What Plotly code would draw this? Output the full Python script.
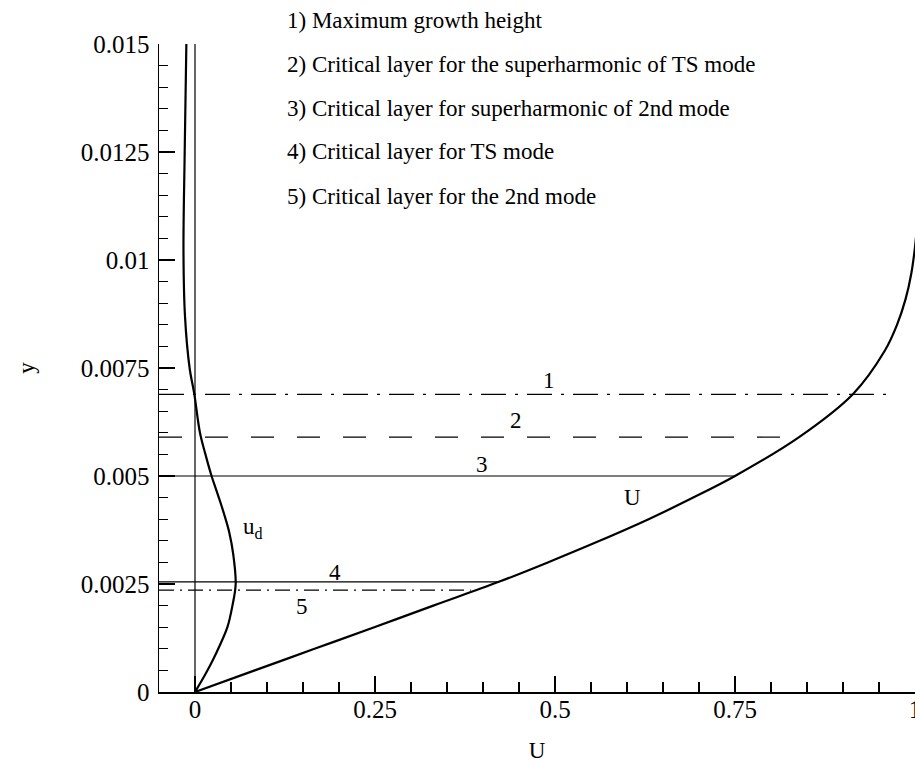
import plotly.graph_objects as go

# ---- data ----
# mean flow profile U(y)
U_y = [0, 0.0005, 0.001, 0.0015, 0.002, 0.00255, 0.003, 0.0035, 0.004, 0.0045,
       0.005, 0.0059, 0.0069, 0.0079, 0.0085, 0.0091, 0.0097, 0.0103, 0.011, 0.012]
U_x = [0, 0.083, 0.166, 0.249, 0.331, 0.422, 0.49, 0.562, 0.63, 0.692,
       0.75, 0.839, 0.914, 0.958, 0.975, 0.987, 0.995, 1.0, 1.004, 1.01]

# distortion profile u_d(y)
ud_y = [0, 0.0004, 0.00073, 0.0011, 0.0015, 0.002, 0.0025, 0.0032, 0.0037, 0.0043,
        0.0047, 0.005, 0.0055, 0.006, 0.0069, 0.0075, 0.0087, 0.0102, 0.0125, 0.015]
ud_x = [0, 0.014, 0.0245, 0.035, 0.045, 0.052, 0.0565, 0.053, 0.0475, 0.037,
        0.029, 0.023, 0.0145, 0.0069, -0.001, -0.0075, -0.0139, -0.016, -0.0143, -0.012]

# critical layers
layer_ids = ["1", "2", "3", "4", "5"]
layer_y = [0.00689, 0.0059, 0.005, 0.00255, 0.00236]
layer_xend = [0.965, 0.839, 0.75, 0.422, 0.383]
layer_label_x = [0.492, 0.446, 0.399, 0.194, 0.149]
layer_label_y = [0.0072, 0.00629, 0.00527, 0.00277, 0.00198]
layer_desc = [
    "1) Maximum growth height",
    "2) Critical layer for the superharmonic of TS mode",
    "3) Critical layer for superharmonic of 2nd mode",
    "4) Critical layer for TS mode",
    "5) Critical layer for the 2nd mode",
]

x_tickvals = [0, 0.25, 0.5, 0.75, 1]
x_ticktext = ["0", "0.25", "0.5", "0.75", "1"]
y_tickvals = [0, 0.0025, 0.005, 0.0075, 0.01, 0.0125, 0.015]
y_ticktext = ["0", "0.0025", "0.005", "0.0075", "0.01", "0.0125", "0.015"]
x_range = [-0.05, 1.0]
y_range = [0, 0.015]

# ---- styles ----
FONT = "Liberation Serif"
TICKFONT = dict(family=FONT, size=25, color="black")
TXT = dict(family=FONT, size=23, color="black")
dash_styles = ["25px,9px,3px,9px", "23px,23px", "solid", "solid", "15px,6px,2px,6px"]

fig = go.Figure()

# vertical zero line
fig.add_trace(go.Scatter(x=[0, 0], y=y_range, mode="lines",
                         line=dict(color="black", width=1.2), hoverinfo="skip"))

for i in range(len(layer_ids)):
    fig.add_trace(go.Scatter(x=[x_range[0], layer_xend[i]], y=[layer_y[i], layer_y[i]],
                             mode="lines", hoverinfo="skip",
                             line=dict(color="black", width=1.2, dash=dash_styles[i])))

fig.add_trace(go.Scatter(x=U_x, y=U_y, mode="lines", hoverinfo="skip",
                         line=dict(color="black", width=2.2, shape="spline")))
fig.add_trace(go.Scatter(x=ud_x, y=ud_y, mode="lines", hoverinfo="skip",
                         line=dict(color="black", width=2.2, shape="spline")))

annotations = []
for i in range(len(layer_ids)):
    annotations.append(dict(x=layer_label_x[i], y=layer_label_y[i], text=layer_ids[i],
                            showarrow=False, font=TXT))
annotations.append(dict(x=0.08, y=0.0038, text="u<sub>d</sub>", showarrow=False, font=TXT))
annotations.append(dict(x=0.607, y=0.0045, text="U", showarrow=False, font=TXT))
for i, t in enumerate(layer_desc):
    annotations.append(dict(xref="paper", yref="paper", x=(285 - 159) / 756,
                            y=(692 - 20 - 44 * i) / 648, xanchor="left", yanchor="middle",
                            text=t, showarrow=False, font=TXT))

fig.update_layout(
    width=915, height=763,
    margin=dict(l=159, r=0, t=44, b=71),
    paper_bgcolor="white", plot_bgcolor="white",
    showlegend=False,
    font=dict(family=FONT, size=23, color="black"),
    annotations=annotations,
    xaxis=dict(range=x_range, tickvals=x_tickvals, ticktext=x_ticktext, tickfont=TICKFONT,
               automargin=False,
               showgrid=False, zeroline=False, showline=True, linecolor="black", linewidth=1.5,
               ticks="inside", ticklen=16, tickwidth=1.5, tickcolor="black",
               ticklabelstandoff=-6, ticklabeloverflow="allow",
               minor=dict(ticks="inside", ticklen=10, tickwidth=1.2, tickcolor="black",
                          dtick=0.05, tick0=0, showgrid=False),
               title=dict(text="U", standoff=21, font=TXT)),
    yaxis=dict(range=y_range, tickvals=y_tickvals, ticktext=y_ticktext, tickfont=TICKFONT,
               automargin=False,
               showgrid=False, zeroline=False, showline=True, linecolor="black", linewidth=1.5,
               ticks="inside", ticklen=16, tickwidth=1.5, tickcolor="black",
               ticklabelstandoff=3,
               minor=dict(ticks="inside", ticklen=9, tickwidth=1.2, tickcolor="black",
                          dtick=0.0005, tick0=0, showgrid=False),
               title=dict(text="y", standoff=39, font=TXT)),
)

fig.write_html("out.html", config={"displayModeBar": False, "staticPlot": True},
               post_script="document.body.style.margin='0';")
